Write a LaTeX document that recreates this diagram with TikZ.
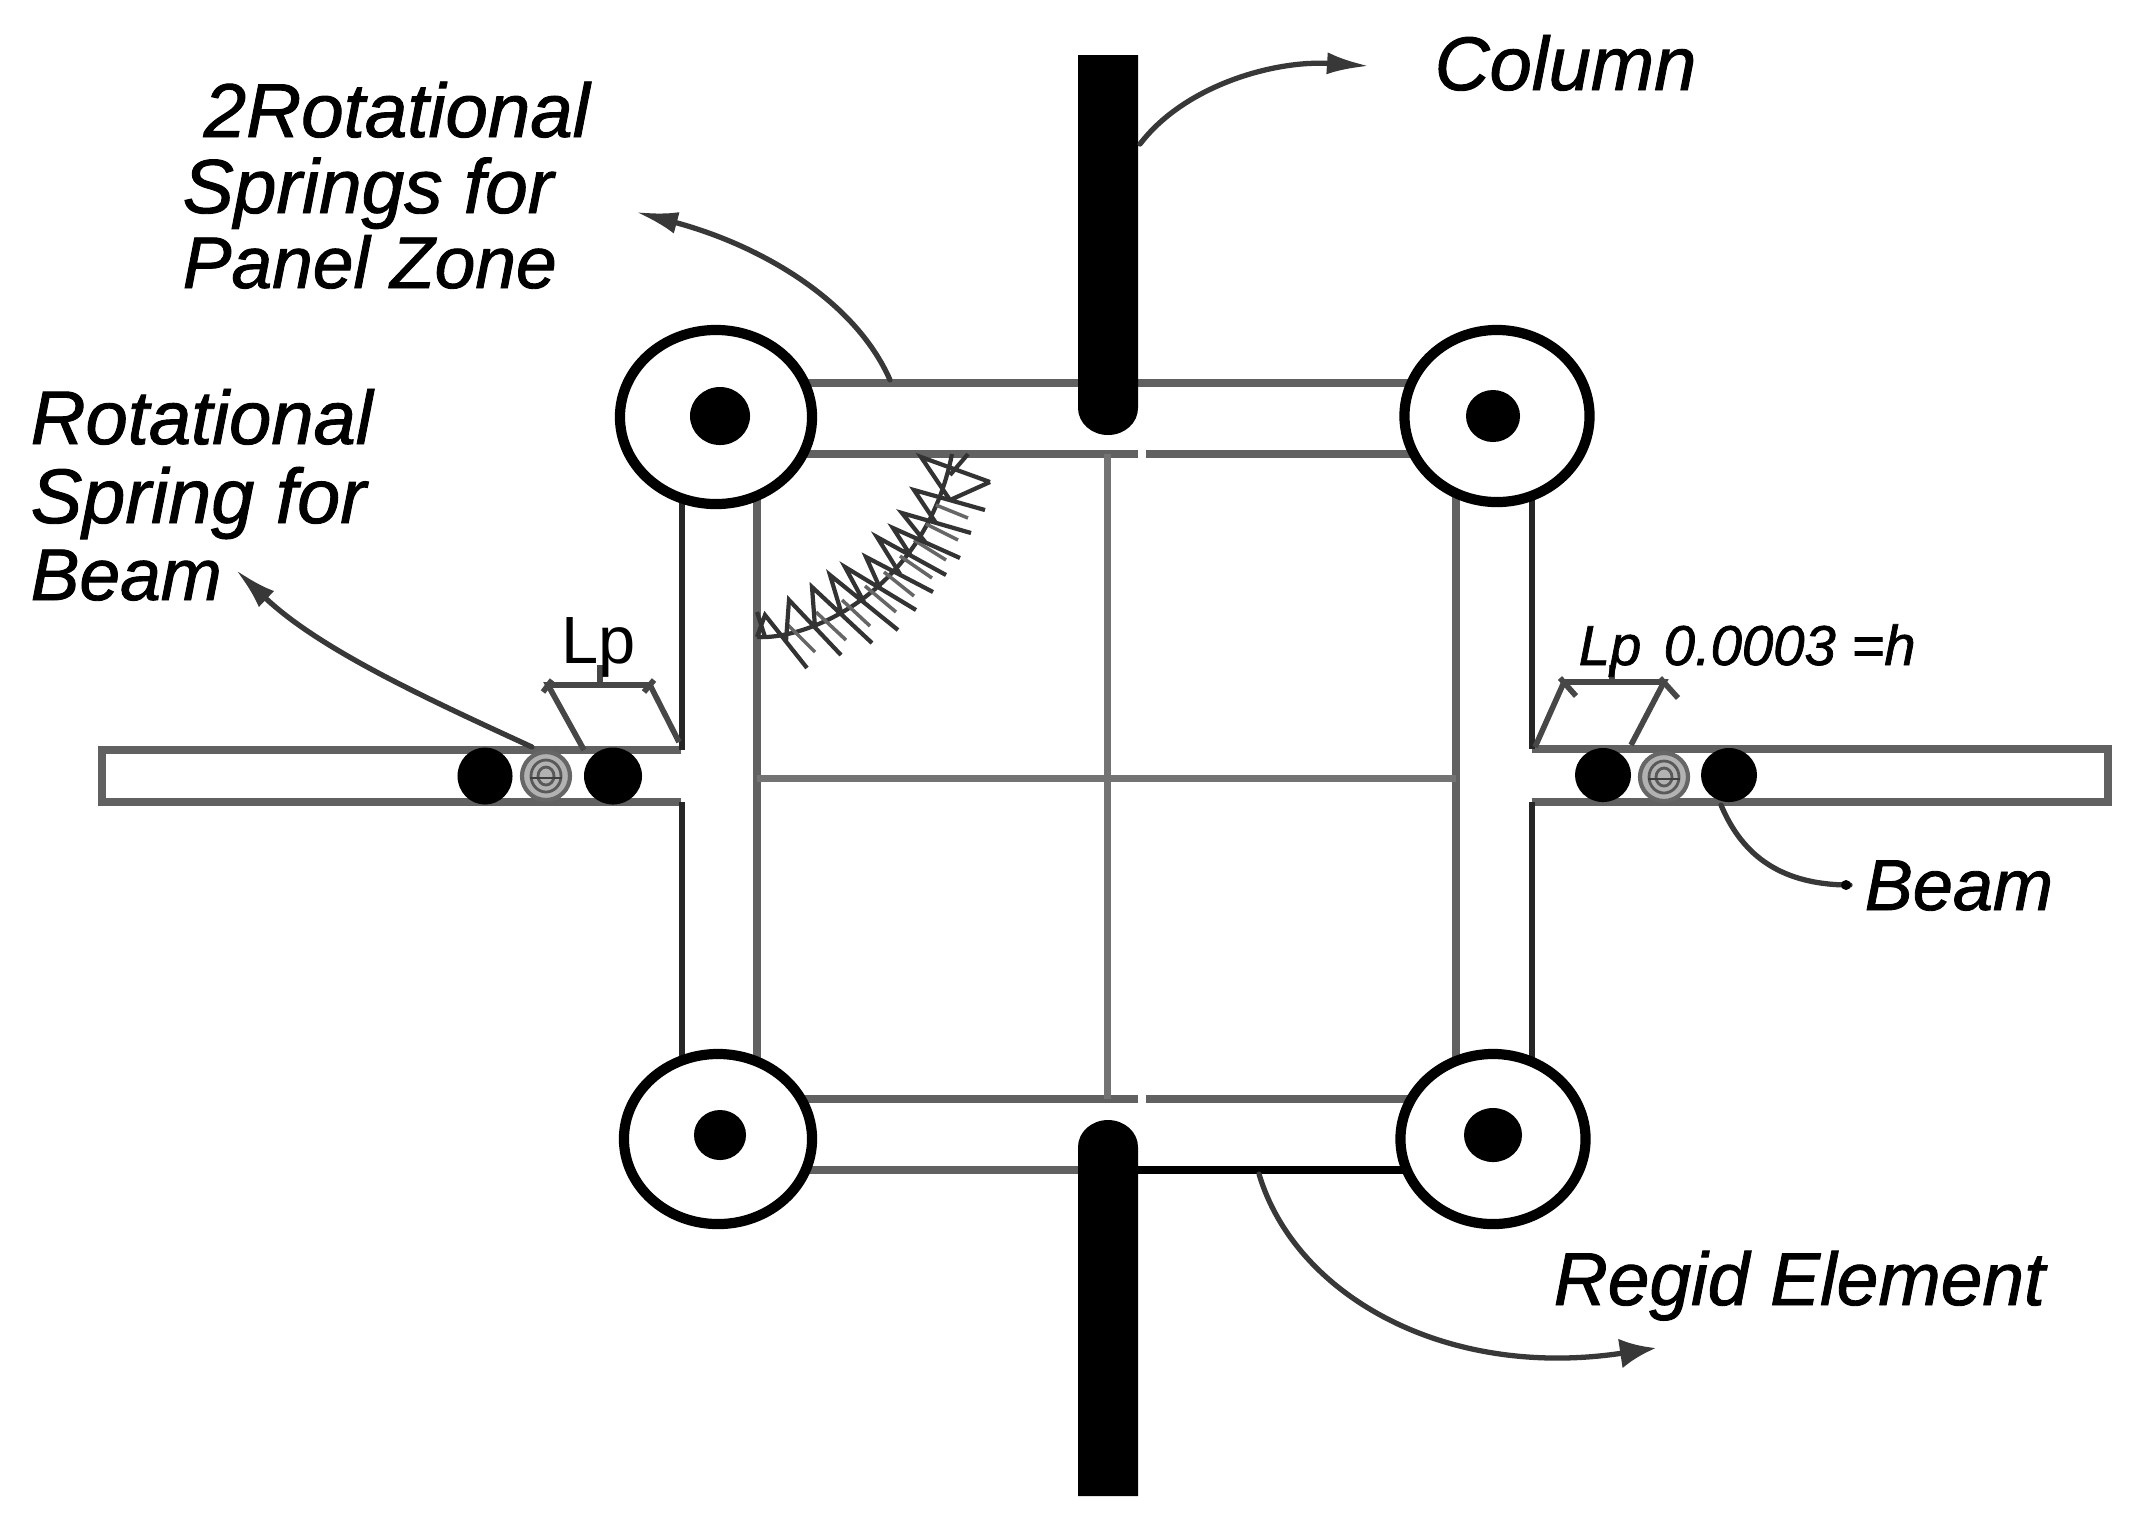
\documentclass[tikz,border=0pt]{standalone}
\usepackage{fontspec}
\setmainfont{Liberation Sans}
\usetikzlibrary{shapes.geometric,arrows.meta}
\newcommand{\labfont}[1]{\fontsize{#1pt}{#1pt}\selectfont\itshape\addfontfeature{FakeBold=1.2}}
\tikzset{
  x=0.01cm,y=-0.01cm,
  member/.style={draw=black!62,line width=2.1pt},
  darkmember/.style={draw=black!85,line width=1.5pt},
  grid/.style={draw=black!55,line width=2pt},
  leader/.style={draw=black!78,line width=1.5pt,line cap=round},
  leaderarrow/.style={leader,-{Latex[length=0.42cm,width=0.22cm]}},
  bigarrow/.style={leader,-{Latex[length=0.36cm,width=0.3cm]}},
  joint/.style={ellipse,draw=black,fill=white,line width=2.9pt,inner sep=0pt,outer sep=0pt},
  dot/.style={ellipse,fill=black,inner sep=0pt},
  hinge/.style={ellipse,draw=black!60,fill=black!30,line width=1.2pt,inner sep=0pt,minimum width=0.48cm,minimum height=0.48cm},
  label/.style={inner sep=0pt,font=\labfont{#1},anchor=base west},
  dim/.style={draw=black!72,line width=1.6pt},
  spring/.style={draw=black!80,line width=1.2pt},
  springfine/.style={draw=black!60,line width=1pt},
}
\begin{document}
\begin{tikzpicture}
\useasboundingbox (0,0) rectangle (2146,1538);
% beams
\draw[member] (681,750) -- (102,750) -- (102,802) -- (681,802);
\draw[member] (1532,749) -- (2108,749) -- (2108,802) -- (1532,802);
% panel frame
\draw[member] (780,383) -- (1450,383);
\draw[member] (780,454) -- (1138,454) (1146,454) -- (1450,454);
\draw[member] (780,1099) -- (1138,1099) (1146,1099) -- (1410,1099);
\draw[member] (780,1170) -- (1085,1170);
\draw[draw=black,line width=2.3pt] (1138,1170) -- (1410,1170);
\draw[darkmember] (682,490) -- (682,750) (682,802) -- (682,1070);
\draw[member] (757,490) -- (757,1070);
\draw[member] (1456,490) -- (1456,1070);
\draw[darkmember] (1532,490) -- (1532,749) (1532,802) -- (1532,1070);
% centre lines
\draw[grid] (1107,454) -- (1107,1099);
\draw[grid] (757,778) -- (1456,778);
% columns
\fill[black] (1078,55) -- (1138,55) -- (1138,408) arc[start angle=0,end angle=180,x radius=30,y radius=27] -- cycle;
\fill[black] (1078,1496) -- (1138,1496) -- (1138,1147) arc[start angle=0,end angle=-180,x radius=30,y radius=27] -- cycle;
% joints
\node[joint,minimum width=1.92cm,minimum height=1.74cm] (jtl) at (716,417) {};
\node[joint,minimum width=1.85cm,minimum height=1.72cm] (jtr) at (1497,416) {};
\node[joint,minimum width=1.88cm,minimum height=1.70cm] (jbl) at (718,1139) {};
\node[joint,minimum width=1.85cm,minimum height=1.70cm] (jbr) at (1493,1139) {};
\node[dot,minimum width=0.6cm,minimum height=0.58cm] (dtl) at (720,416) {};
\node[dot,minimum width=0.54cm,minimum height=0.52cm] (dtr) at (1493,416) {};
\node[dot,minimum width=0.52cm,minimum height=0.5cm] (dbl) at (720,1135) {};
\node[dot,minimum width=0.58cm,minimum height=0.54cm] (dbr) at (1493,1135) {};
% beam hinges
\node[hinge] (hl) at (546,776) {};
\draw[black!65,line width=0.8pt] (hl) ellipse[x radius=15,y radius=16];
\draw[black!65,line width=0.8pt] (hl) ellipse[x radius=8,y radius=9];
\draw[black!75,line width=0.8pt] (530,778) -- (562,778);
\node[hinge] (hr) at (1664,777) {};
\draw[black!65,line width=0.8pt] (hr) ellipse[x radius=15,y radius=16];
\draw[black!65,line width=0.8pt] (hr) ellipse[x radius=8,y radius=9];
\draw[black!75,line width=0.8pt] (1648,779) -- (1680,779);
\node[dot,minimum width=0.55cm,minimum height=0.57cm] (bl1) at (485,776) {};
\node[dot,minimum width=0.58cm,minimum height=0.57cm] (bl2) at (613,776) {};
\node[dot,minimum width=0.56cm,minimum height=0.54cm] (br1) at (1603,775) {};
\node[dot,minimum width=0.56cm,minimum height=0.54cm] (br2) at (1729,775) {};
% panel spring
\draw[spring] (757,637) .. controls (810,640) and (925,590) .. (952,454);
\draw[springfine]
  (788,625) -- (815,652) (816,612) -- (846,640) (842,600) -- (870,626) (865,586) -- (896,612)
  (884,572) -- (914,596) (900,556) -- (932,578) (914,540) -- (946,560) (926,524) -- (958,540) (936,505) -- (968,518);
\draw[spring]
  (757,612) -- (765,637) (757,637) -- (765,615) -- (807,668)
  (786,641) -- (789,600) -- (841,655)
  (815,627) -- (812,587) -- (872,643)
  (842,615) -- (830,575) -- (898,630)
  (864,602) -- (845,567) -- (916,610)
  (880,588) -- (866,557) -- (933,592)
  (900,574) -- (877,537) -- (946,575)
  (911,556) -- (893,528) -- (960,558)
  (926,543) -- (902,513) -- (971,533)
  (936,523) -- (914,490) -- (985,510)
  (950,500) -- (921,457) -- (990,482) (950,475) -- (968,454) (950,500) -- (990,482);
% Lp brackets
\coordinate (lpa) at (584,750);
\coordinate (lpb) at (548,685);
\coordinate (lpc) at (650,685);
\coordinate (lpd) at (679,742);
\draw[dim] (lpa) -- (lpb) -- (lpc) -- (lpd);
\draw[dim] (600,665) -- (600,685) (543,692) -- (552,680) (644,692) -- (654,680);
\coordinate (lqa) at (1535,747);
\coordinate (lqb) at (1564,682);
\coordinate (lqc) at (1664,682);
\coordinate (lqd) at (1631,745);
\draw[dim] (lqa) -- (lqb) -- (lqc) -- (lqd);
\draw[dim] (1612,665) -- (1612,682) (1560,678) -- (1576,696) (1660,678) -- (1678,698);
% labels
\node[label=21.6] (lcol) at (1434,90) {Column};
\node[label=21.7] (lrot1) at (203,137) {2Rotational};
\node[label=21.8] (lrot2) at (182,213) {Springs for};
\node[label=20.8] (lrot3) at (182,288) {Panel Zone};
\node[label=21.6] (lbs1) at (30,444) {Rotational};
\node[label=22] (lbs2) at (30,523) {Spring for};
\node[label=20.8] (lbs3) at (30,600) {Beam};
\node[label=20.5] (lbeam) at (1864,910) {Beam};
\node[label=21.3] (lreg) at (1553,1305) {Regid Element};
\node[inner sep=0pt,font=\fontsize{19pt}{22pt}\selectfont,anchor=base west] (llp) at (561,663) {Lp};
\node[label=16] (llq) at (1578,665) {Lp\hspace{0.4em}0.0003 =h};
% leaders
\coordinate (tcol) at (1369,66);
\coordinate (tpan) at (636,212);
\coordinate (tbs) at (236,570);
\coordinate (treg) at (1656,1348);
\draw[leaderarrow] (1140,144) .. controls (1185,85) and (1275,60) .. (tcol);
\draw[leaderarrow] (890,380) .. controls (855,300) and (760,245) .. (tpan);
\draw[leaderarrow] (532,747) .. controls (430,700) and (320,650) .. (tbs);
\draw[bigarrow] (1259,1174) .. controls (1295,1295) and (1445,1380) .. (treg);
\draw[leader] (1721,805) .. controls (1740,850) and (1775,885) .. (1850,885);
\fill[black] (1846,885) circle[radius=5];
\end{tikzpicture}
\end{document}
